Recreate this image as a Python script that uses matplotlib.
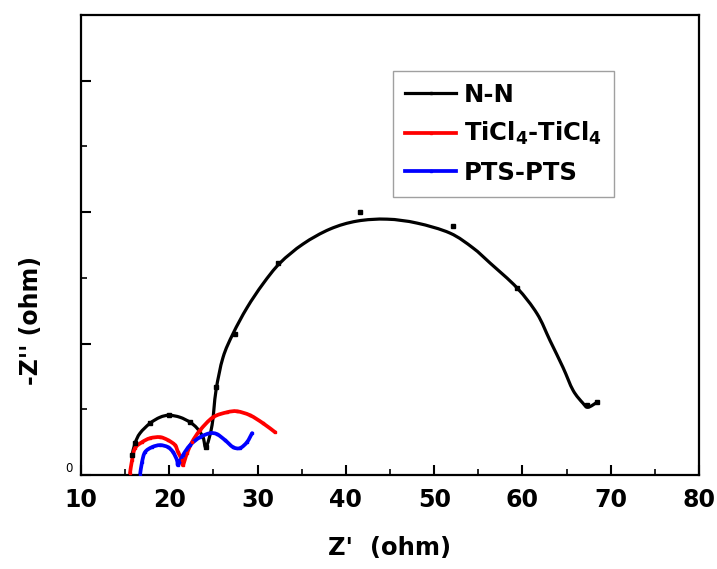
import matplotlib
matplotlib.use("Agg")
import matplotlib.pyplot as plt
from matplotlib.ticker import MultipleLocator
from matplotlib.path import Path
from matplotlib.patches import PathPatch

plt.rcParams['font.family'] = ['DejaVu Sans']
plt.rcParams['mathtext.fontset'] = 'custom'
plt.rcParams['mathtext.rm'] = 'DejaVu Sans:bold'
plt.rcParams['mathtext.bf'] = 'DejaVu Sans:bold'
plt.rcParams['mathtext.default'] = 'bf'

# N-N (black): fitted line and measured points
nn_x = [15.78, 16.12, 16.68, 17.82, 18.95, 19.97, 21.21, 22.35, 23.14, 23.82, 24.16,
        24.84, 25.29, 26.08, 27.22, 28.80, 30.61, 32.54, 35.14, 38.20, 41.26, 44.66,
        48.06, 51.79, 54.40, 56.32, 59.38, 61.65, 63.12, 64.59, 65.73, 66.86, 67.42, 68.44]
nn_y = [2.27, 3.64, 4.77, 5.91, 6.59, 6.82, 6.59, 6.02, 5.34, 4.32, 3.18,
        5.68, 9.66, 13.41, 16.14, 19.09, 21.82, 24.20, 26.36, 28.07, 28.98, 29.20,
        28.75, 27.61, 25.91, 24.20, 21.36, 18.41, 15.34, 12.27, 9.66, 8.18, 7.73, 8.30]
nn_pts_x = [15.78, 16.12, 17.82, 19.97, 22.35, 24.16, 25.29, 27.44, 32.31, 41.60, 52.13, 59.38, 67.31, 68.44]
nn_pts_y = [2.27, 3.64, 5.91, 6.82, 6.02, 3.18, 10.00, 16.14, 24.20, 30.00, 28.41, 21.36, 7.95, 8.30]

# TiCl4-TiCl4 (red)
ti_x = [15.55, 15.78, 16.12, 16.91, 17.82, 18.95, 19.85, 20.65, 20.99, 21.44, 21.55,
        22.01, 22.57, 23.48, 24.95, 26.54, 27.67, 29.14, 30.61, 31.97]
ti_y = [0.23, 1.70, 3.07, 3.75, 4.20, 4.32, 3.98, 3.41, 2.61, 1.70, 1.14,
        2.50, 3.75, 5.11, 6.59, 7.16, 7.27, 6.82, 5.91, 4.89]

# PTS-PTS (blue)
pts_x = [16.68, 16.91, 17.25, 18.04, 18.95, 19.85, 20.42, 20.87, 20.99, 21.55,
         22.35, 23.48, 24.61, 25.40, 26.31, 27.22, 28.01, 28.80, 29.37]
pts_y = [0.00, 1.48, 2.61, 3.18, 3.41, 3.18, 2.61, 1.70, 1.14, 2.27,
         3.41, 4.32, 4.77, 4.66, 3.98, 3.18, 3.07, 3.75, 4.77]

labels = ['N-N', r'TiCl$_4$-TiCl$_4$', 'PTS-PTS']
colors = ['black', 'red', 'blue']


def smooth_path(xs, ys):
    """Catmull-Rom curve through the given points, as a Bezier path in data coords."""
    pts = list(zip(xs, ys))
    n = len(pts)
    verts = [pts[0]]
    codes = [Path.MOVETO]
    for i in range(n - 1):
        p0 = pts[i - 1] if i > 0 else pts[i]
        p1 = pts[i]
        p2 = pts[i + 1]
        p3 = pts[i + 2] if i + 2 < n else pts[i + 1]
        c1 = (p1[0] + (p2[0] - p0[0]) / 6.0, p1[1] + (p2[1] - p0[1]) / 6.0)
        c2 = (p2[0] - (p3[0] - p1[0]) / 6.0, p2[1] - (p3[1] - p1[1]) / 6.0)
        verts += [c1, c2, p2]
        codes += [Path.CURVE4] * 3
    return Path(verts, codes)


fig = plt.figure(figsize=(7.17, 5.69), dpi=100)
ax = fig.add_axes([0.113, 0.1652, 0.862, 0.8084])

series = [(nn_x, nn_y, 2.3), (ti_x, ti_y, 2.7), (pts_x, pts_y, 2.7)]
for (xs, ys, lw), c, lab in zip(series, colors, labels):
    ax.add_patch(PathPatch(smooth_path(xs, ys), fill=False, edgecolor=c, lw=lw,
                           capstyle='round', joinstyle='round', zorder=2))
    ax.plot([], [], color=c, lw=lw, marker='s', markersize=2, label=lab)

ax.plot(nn_pts_x, nn_pts_y, ls='none', marker='s', color='black', markersize=3.2, zorder=3)
ax.plot(ti_x, ti_y, ls='none', marker='s', color='red', markersize=1.8, zorder=3)
ax.plot(pts_x, pts_y, ls='none', marker='s', color='blue', markersize=1.8, zorder=3)

ax.set_xlim(10, 80)
ax.set_ylim(0, 52.5)
ax.xaxis.set_major_locator(MultipleLocator(10))
ax.xaxis.set_minor_locator(MultipleLocator(5))
ax.yaxis.set_minor_locator(MultipleLocator(7.5))
ax.set_yticks([0, 15, 30, 45])
ax.set_yticklabels(['0', '', '', ''])

ax.tick_params(axis='both', which='both', direction='in', top=False, right=False)
ax.tick_params(axis='both', which='major', length=7, width=1.5)
ax.tick_params(axis='both', which='minor', length=4, width=1.2)
ax.tick_params(axis='x', labelsize=17, pad=9)
ax.tick_params(axis='y', labelsize=8.5, pad=6)
for lab in ax.get_xticklabels():
    lab.set_fontweight('bold')
for lab in ax.get_yticklabels():
    lab.set_verticalalignment('bottom')
for s in ax.spines.values():
    s.set_linewidth(1.6)

ax.set_xlabel("Z'  (ohm)", fontsize=17.5, fontweight='bold')
ax.xaxis.set_label_coords(0.5, -0.158)
ax.set_ylabel("-Z'' (ohm)", fontsize=17, fontweight='bold')
ax.yaxis.set_label_coords(-0.081, 0.335)
ax.yaxis.label.set_va('center')
ax.xaxis.label.set_va('center')

leg = ax.legend(loc='upper left', bbox_to_anchor=(0.505, 0.879),
                prop={'weight': 'bold', 'size': 17.5}, frameon=True, fancybox=False,
                edgecolor='#888888', handlelength=2.1, handletextpad=0.3,
                labelspacing=0.55, borderpad=0.5, borderaxespad=0)
leg.get_frame().set_linewidth(1.0)

fig.savefig('out.png', dpi=100)
